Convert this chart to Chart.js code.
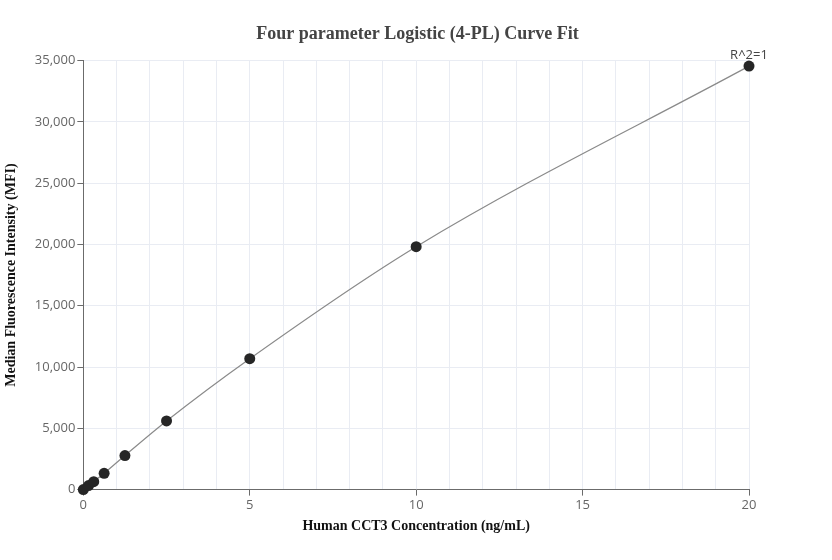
<!DOCTYPE html>
<html>
    <head>
        <title>4-PL Curve Fit</title>
        <meta charset="UTF-8">
        <style>
            body { margin: 0; background: white; }
            #chart-holder { width: 832px; height: 560px; }
        </style>
    </head>
    <body>
        <div id="chart-holder">
            <canvas id="grafica-curva" width="832" height="560"></canvas>
        </div>

        <script src="https://cdn.jsdelivr.net/npm/chart.js@4.4.0/dist/chart.umd.min.js"></script>
        <script>
            // concentraciones (ng/mL) y MFI
            var concentrations = [0, 0.156, 0.3125, 0.625, 1.25, 2.5, 5, 10, 20];
            var mfiValues = [0, 330, 650, 1330, 2780, 5600, 10680, 19820, 34550];
            var xTicks = [0, 5, 10, 15, 20];
            var yTicks = [0, 5000, 10000, 15000, 20000, 25000, 30000, 35000];
            var fitLabel = "R^2=1";

            var points = concentrations.map(function (c, i) {
                return {x: c, y: mfiValues[i]};
            });

            var gridColor = '#e9ecf3';
            var axisColor = '#6b6b6b';

            // etiqueta R^2 sobre el ultimo punto
            var fitLabelPlugin = {
                id: 'fitLabel',
                afterDatasetsDraw: function (chart) {
                    var ctx = chart.ctx;
                    var last = points[points.length - 1];
                    var px = chart.scales.x.getPixelForValue(last.x);
                    var py = chart.scales.y.getPixelForValue(last.y);
                    ctx.save();
                    ctx.font = '13px "Open Sans", sans-serif';
                    ctx.fillStyle = '#444';
                    ctx.textAlign = 'center';
                    ctx.textBaseline = 'bottom';
                    ctx.fillText(fitLabel, px, py - 4);
                    ctx.restore();
                }
            };

            var chartCtx = document.getElementById("grafica-curva").getContext("2d");
            new Chart(chartCtx, {
                type: 'scatter',
                data: {
                    datasets: [{
                            label: 'MFI',
                            data: points,
                            showLine: true,
                            clip: false,
                            cubicInterpolationMode: 'monotone',
                            borderColor: '#8a8a8a',
                            borderWidth: 1.2,
                            pointRadius: 5.5,
                            pointHoverRadius: 5.5,
                            pointBackgroundColor: '#262626',
                            pointBorderColor: '#262626',
                            pointBorderWidth: 0
                        }]
                },
                options: {
                    responsive: false,
                    animation: false,
                    layout: {
                        padding: {left: 3, right: 0, top: 6, bottom: 25}
                    },
                    plugins: {
                        legend: {display: false},
                        tooltip: {enabled: false},
                        title: {
                            display: true,
                            text: 'Four parameter Logistic (4-PL) Curve Fit',
                            color: '#444',
                            font: {family: '"Liberation Serif", "Times New Roman", serif', size: 18, weight: 'bold'},
                            padding: {top: 18, bottom: 15}
                        }
                    },
                    scales: {
                        x: {
                            type: 'linear',
                            min: 0,
                            max: 20,
                            border: {color: axisColor, width: 1},
                            grid: {
                                color: gridColor,
                                tickLength: 6,
                                tickColor: function (c) {
                                    return xTicks.indexOf(c.tick.value) >= 0 ? axisColor : 'rgba(0,0,0,0)';
                                }
                            },
                            ticks: {
                                stepSize: 1,
                                autoSkip: false,
                                maxRotation: 0,
                                color: '#666',
                                font: {family: '"Open Sans", sans-serif', size: 13},
                                padding: 2,
                                callback: function (v) {
                                    return xTicks.indexOf(v) >= 0 ? v : '';
                                }
                            },
                            title: {
                                display: true,
                                text: 'Human CCT3 Concentration (ng/mL)',
                                color: '#111',
                                font: {family: '"Liberation Serif", "Times New Roman", serif', size: 14, weight: 'bold'},
                                padding: {top: 3, bottom: 0}
                            }
                        },
                        y: {
                            type: 'linear',
                            min: 0,
                            max: 35000,
                            border: {color: axisColor, width: 1},
                            grid: {color: gridColor, tickLength: 6, tickColor: axisColor},
                            afterBuildTicks: function (axis) {
                                axis.ticks = yTicks.map(function (v) { return {value: v}; });
                            },
                            ticks: {
                                color: '#666',
                                font: {family: '"Open Sans", sans-serif', size: 13},
                                padding: 2,
                                callback: function (v) {
                                    return v.toLocaleString('en-US');
                                }
                            },
                            title: {
                                display: true,
                                text: 'Median Fluorescence Intensity (MFI)',
                                color: '#111',
                                font: {family: '"Liberation Serif", "Times New Roman", serif', size: 14, weight: 'bold'},
                                padding: {top: 0, bottom: 13}
                            }
                        },
                        // eje vacio a la derecha para dejar el margen
                        margen: {
                            type: 'linear',
                            position: 'right',
                            display: true,
                            grid: {display: false},
                            border: {display: false},
                            ticks: {display: false},
                            afterFit: function (axis) {
                                axis.width = 83;
                            }
                        }
                    }
                },
                plugins: [fitLabelPlugin]
            });
        </script>
    </body>
</html>
